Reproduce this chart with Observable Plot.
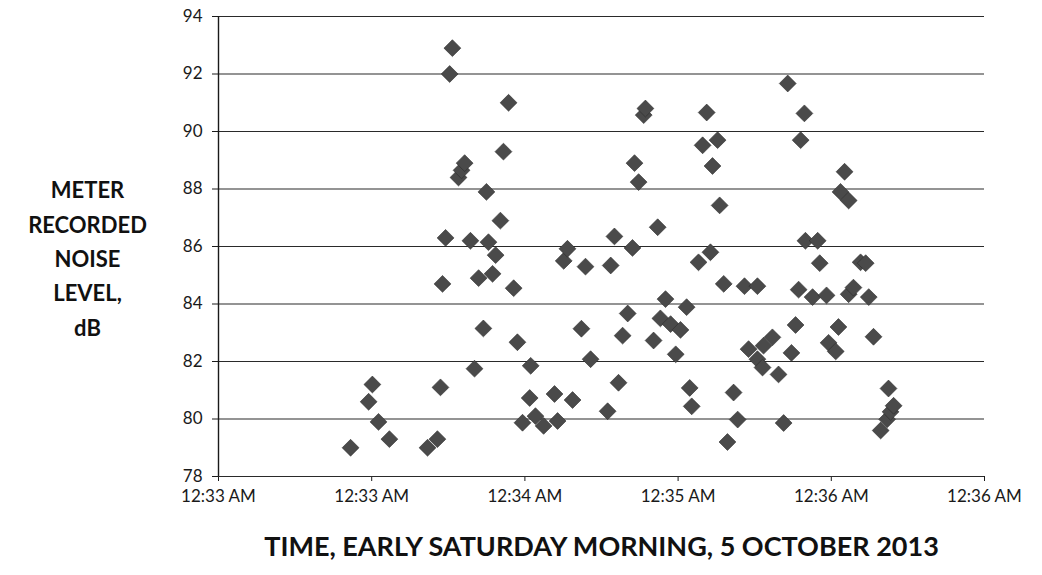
<!DOCTYPE html>
<html><head><meta charset="utf-8">
<script src="https://cdn.jsdelivr.net/npm/d3@7"></script>
<script src="https://cdn.jsdelivr.net/npm/@observablehq/plot@0.6"></script>
<style>body{margin:0;background:#fff;}</style>
</head><body><div id="chart"></div>
<script>
// seconds after 12:33:00 AM
const seconds = [38.8,45.2,44.1,47.0,50.2,61.4,64.3,65.2,65.8,66.7,67.9,68.7,70.5,71.4,72.3,74.0,75.2,76.4,77.8,78.7,
  79.3,80.5,81.4,82.8,83.7,85.2,86.7,87.8,89.3,91.4,91.7,93.1,95.5,98.7,99.6,101.4,102.5,104.0,106.6,107.8,
  109.3,114.3,115.2,116.3,117.5,118.7,120.2,121.6,122.2,123.4,124.9,125.4,127.8,129.0,129.8,131.3,132.8,134.3,135.7,137.5,
  138.4,139.0,141.0,142.2,143.4,144.5,145.1,146.6,147.2,148.4,149.5,151.3,152.5,154.5,155.7,158.3,158.3,159.8,160.1,162.7,
  164.5,166.0,167.2,168.3,169.5,170.4,171.0,172.1,172.4,174.5,176.0,176.6,178.6,179.2,181.3,182.1,182.7,183.9,185.1,185.1,
  186.5,188.6,190.1,191.0,192.4,194.5,196.4,196.8,197.4,198.3];
const levels = [79.0,81.2,80.6,79.9,79.3,79.0,79.3,81.1,84.7,86.3,92.0,92.9,88.4,88.65,88.9,86.2,81.75,84.9,83.15,87.9,
  86.15,85.05,85.7,86.9,89.3,91.0,84.55,82.67,79.87,80.73,81.85,80.1,79.76,80.87,79.93,85.5,85.92,80.66,83.14,85.3,
  82.08,80.27,85.34,86.35,81.26,82.9,83.67,85.95,88.9,88.24,90.57,90.8,82.73,86.67,83.5,84.17,83.3,82.25,83.1,83.89,
  81.08,80.44,85.45,89.52,90.66,85.8,88.8,89.7,87.43,84.7,79.2,80.92,79.98,84.62,82.43,84.62,82.08,81.79,82.55,82.84,
  81.55,79.86,91.67,82.3,83.27,84.5,89.7,90.63,86.2,84.24,86.2,85.42,84.3,82.65,82.35,83.2,87.9,88.6,87.6,84.34,
  84.57,85.45,85.42,84.24,82.86,79.6,79.99,81.06,80.25,80.46];
const tickSeconds = [0, 45, 90, 135, 180, 225];
const yTicks = [78, 80, 82, 84, 86, 88, 90, 92, 94];
const xTitle = "TIME, EARLY SATURDAY MORNING, 5 OCTOBER 2013";
const yTitle = "METER\nRECORDED\nNOISE\nLEVEL,\ndB";

const base = new Date(2013, 9, 5, 0, 33, 0);
const toDate = s => new Date(base.getTime() + s * 1000);
const data = seconds.map((s, i) => ({time: toDate(s), level: levels[i]}));
const fmt = d3.timeFormat("%-I:%M %p");

const chart = Plot.plot({
  width: 1042, height: 575,
  marginLeft: 218, marginRight: 58, marginTop: 16, marginBottom: 99,
  style: {fontFamily: "Lato, 'Open Sans', sans-serif", fontSize: "17px", color: "#1a1a1a", background: "#fff"},
  x: {type: "time", domain: [toDate(0), toDate(225)], ticks: tickSeconds.map(toDate), tickFormat: fmt, tickSize: 5, tickPadding: 8, label: null},
  y: {domain: [78, 94], ticks: yTicks, tickSize: 6, tickPadding: 10, label: null},
  marks: [
    Plot.ruleY(yTicks, {stroke: "#2a2a2a", strokeWidth: 1.2}),
    Plot.ruleX([toDate(0)], {stroke: "#1a1a1a", strokeWidth: 1.4}),
    Plot.dot(data, {x: "time", y: "level", symbol: "diamond2", r: 7.6, fill: "#4a4a4a", stroke: "#2e2e2e", strokeWidth: 0.6}),
    Plot.text([xTitle], {text: d => d, frameAnchor: "bottom", dy: 71, lineAnchor: "middle", fontSize: 27, fontWeight: "bold", fill: "#111"}),
    Plot.text([yTitle], {text: d => d, frameAnchor: "left", dx: -131, dy: 9.5, lineAnchor: "middle", textAnchor: "middle", lineHeight: 1.56, fontSize: 22, fontWeight: "bold", fill: "#111"})
  ]
});
document.getElementById("chart").appendChild(chart);
</script>
</body></html>
